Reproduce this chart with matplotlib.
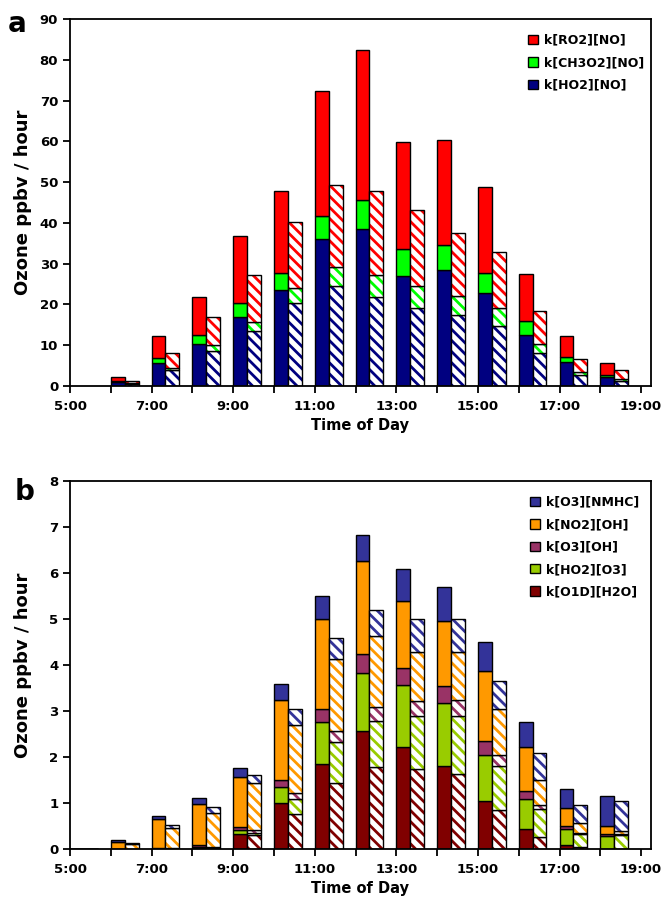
import numpy as np
import matplotlib
matplotlib.use("Agg")
import matplotlib.pyplot as plt
from matplotlib.patches import Patch

plt.rcParams['font.family'] = ['DejaVu Sans']
plt.rcParams['font.weight'] = 'bold'
plt.rcParams['hatch.linewidth'] = 2.0

# ---- panel a: ozone production terms (solid = case 1, hatched = case 2)
hours_a = [6, 7, 8, 9, 10, 11, 12, 13, 14, 15, 16, 17, 18]
ho2_no = [1.0, 5.7, 10.4, 16.9, 23.5, 36.0, 38.4, 27.0, 28.4, 22.7, 12.6, 5.8, 2.3]
ch3o2_no = [0.2, 1.2, 2.0, 3.4, 4.2, 5.7, 7.2, 6.6, 6.2, 5.0, 3.4, 1.2, 0.4]
ro2_no = [0.9, 5.3, 9.4, 16.4, 20.2, 30.7, 36.8, 26.3, 25.7, 21.2, 11.4, 5.2, 3.0]
ho2_no_h = [0.5, 3.9, 8.7, 13.5, 20.3, 24.5, 21.8, 19.1, 17.4, 14.8, 8.1, 2.6, 1.3]
ch3o2_no_h = [0.15, 0.6, 1.3, 2.2, 3.7, 4.7, 5.4, 5.4, 4.6, 4.4, 2.3, 0.8, 0.3]
ro2_no_h = [0.65, 3.7, 7.0, 11.5, 16.3, 20.1, 20.6, 18.7, 15.6, 13.6, 7.9, 3.2, 2.3]

# ---- panel b: ozone loss terms
hours_b = [5, 6, 7, 8, 9, 10, 11, 12, 13, 14, 15, 16, 17, 18]
o1d_h2o = [0.0, 0.0, 0.005, 0.03, 0.33, 0.99, 1.85, 2.57, 2.22, 1.80, 1.04, 0.43, 0.09, 0.01]
ho2_o3 = [0.0, 0.0, 0.005, 0.02, 0.08, 0.36, 0.90, 1.25, 1.35, 1.37, 1.01, 0.65, 0.34, 0.28]
o3_oh = [0.0, 0.0, 0.005, 0.03, 0.06, 0.15, 0.29, 0.41, 0.36, 0.37, 0.29, 0.17, 0.06, 0.03]
no2_oh = [0.005, 0.16, 0.645, 0.89, 1.10, 1.74, 1.97, 2.04, 1.46, 1.42, 1.53, 0.96, 0.40, 0.17]
o3_nmhc = [0.005, 0.03, 0.06, 0.13, 0.20, 0.35, 0.49, 0.56, 0.69, 0.73, 0.62, 0.54, 0.42, 0.66]
o1d_h2o_h = [0.0, 0.0, 0.005, 0.02, 0.30, 0.76, 1.44, 1.79, 1.73, 1.62, 0.84, 0.26, 0.04, 0.01]
ho2_o3_h = [0.0, 0.0, 0.005, 0.01, 0.05, 0.33, 0.89, 0.99, 1.17, 1.28, 0.96, 0.60, 0.28, 0.29]
o3_oh_h = [0.0, 0.0, 0.005, 0.02, 0.06, 0.12, 0.24, 0.30, 0.32, 0.34, 0.24, 0.09, 0.02, 0.02]
no2_oh_h = [0.005, 0.11, 0.445, 0.74, 1.03, 1.48, 1.55, 1.54, 1.07, 1.04, 1.00, 0.56, 0.22, 0.08]
o3_nmhc_h = [0.005, 0.03, 0.06, 0.12, 0.17, 0.35, 0.46, 0.58, 0.70, 0.72, 0.61, 0.57, 0.40, 0.65]

tick_hours = list(range(5, 20))
tick_labels = [f"{h}:00" if h % 2 == 1 else "" for h in tick_hours]

w = 0.34


def stacked(ax, x, series, colors, hatched):
    bottom = np.zeros(len(x))
    for vals, c in zip(series, colors):
        vals = np.array(vals)
        if hatched:
            ax.bar(x, vals, w, bottom=bottom, align='edge', color='white',
                   edgecolor=c, hatch='\\\\\\', linewidth=0)
            ax.bar(x, vals, w, bottom=bottom, align='edge', fill=False,
                   edgecolor='black', linewidth=1.0)
        else:
            ax.bar(x, vals, w, bottom=bottom, align='edge', color=c,
                   edgecolor='black', linewidth=1.0)
        bottom += vals


def style(ax, ymax, step):
    ax.set_xlim(5, 19.24)
    ax.set_ylim(0, ymax)
    ax.set_yticks(np.arange(0, ymax + step / 2, step))
    ax.set_xticks(tick_hours)
    ax.set_xticklabels(tick_labels)
    ax.tick_params(axis='both', labelsize=9.5, width=1.3, length=5, direction='out')
    ax.tick_params(axis='x', pad=5)
    for lab in ax.get_xticklabels() + ax.get_yticklabels():
        lab.set_fontweight('bold')
    for s in ax.spines.values():
        s.set_linewidth(1.3)
    ax.set_xlabel("Time of Day", fontsize=10.5, fontweight='bold', labelpad=4)
    ax.set_ylabel("Ozone ppbv / hour", fontsize=13, fontweight='bold')
    ax.yaxis.set_label_coords(-0.065, 0.5)


fig = plt.figure(figsize=(6.7, 9.05), dpi=100)
ax1 = fig.add_axes([0.1045, 0.5735, 0.867, 0.4055])
ax2 = fig.add_axes([0.1045, 0.0619, 0.867, 0.4066])

cols_a = ['#000080', '#00FF00', '#FF0000']
xa = np.array(hours_a, dtype=float)
stacked(ax1, xa, [ho2_no, ch3o2_no, ro2_no], cols_a, False)
stacked(ax1, xa + w, [ho2_no_h, ch3o2_no_h, ro2_no_h], cols_a, True)
style(ax1, 90, 10)
names_a = ['k[HO2][NO]', 'k[CH3O2][NO]', 'k[RO2][NO]']
h_a = [Patch(facecolor=c, edgecolor='black', label=n) for c, n in zip(cols_a, names_a)][::-1]
leg = ax1.legend(handles=h_a, loc='upper right', frameon=False, fontsize=9,
                 handlelength=0.8, handleheight=0.8, handletextpad=0.5,
                 labelspacing=0.75, bbox_to_anchor=(1.008, 0.99))
for t in leg.get_texts():
    t.set_fontweight('bold')

cols_b = ['#800000', '#99CC00', '#993366', '#FF9900', '#333399']
xb = np.array(hours_b, dtype=float)
stacked(ax2, xb, [o1d_h2o, ho2_o3, o3_oh, no2_oh, o3_nmhc], cols_b, False)
stacked(ax2, xb + w, [o1d_h2o_h, ho2_o3_h, o3_oh_h, no2_oh_h, o3_nmhc_h], cols_b, True)
style(ax2, 8, 1)
names_b = ['k[O1D][H2O]', 'k[HO2][O3]', 'k[O3][OH]', 'k[NO2][OH]', 'k[O3][NMHC]']
h_b = [Patch(facecolor=c, edgecolor='black', label=n) for c, n in zip(cols_b, names_b)][::-1]
leg = ax2.legend(handles=h_b, loc='upper right', frameon=False, fontsize=9,
                 handlelength=0.8, handleheight=0.8, handletextpad=0.5,
                 labelspacing=0.75, bbox_to_anchor=(1.0, 0.99))
for t in leg.get_texts():
    t.set_fontweight('bold')

fig.text(0.012, 0.973, "a", fontsize=20, fontweight='bold', va='center')
fig.text(0.022, 0.456, "b", fontsize=20, fontweight='bold', va='center')

fig.savefig("out.png", dpi=100)
